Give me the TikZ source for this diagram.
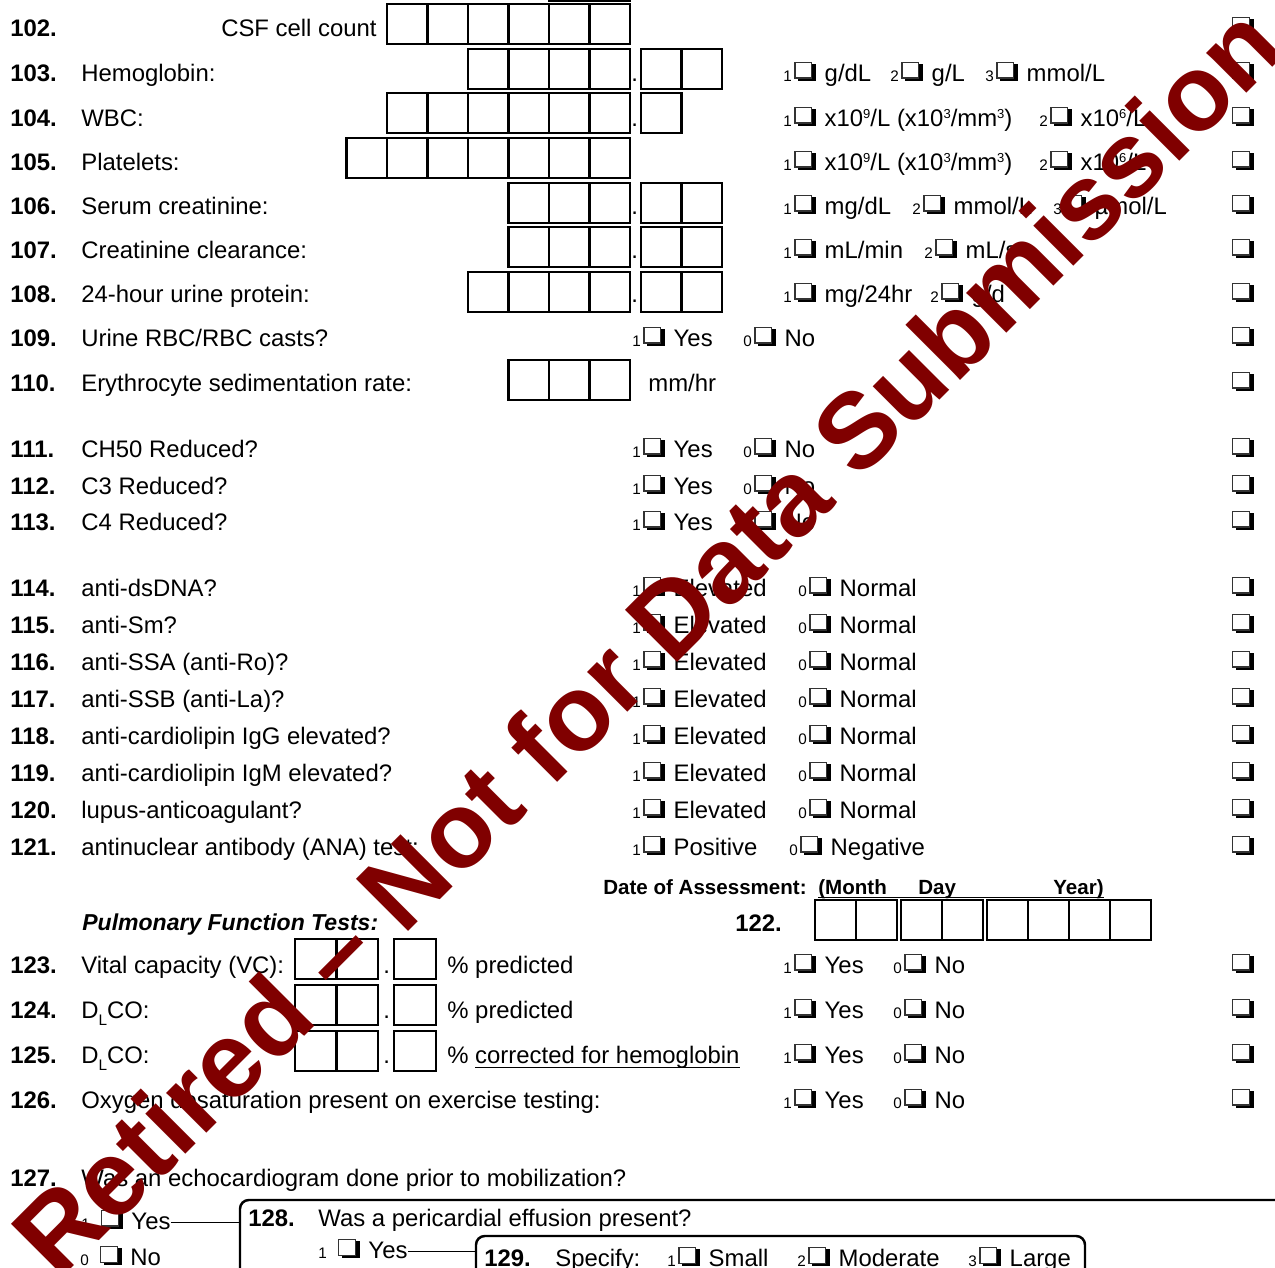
\documentclass[tikz,border=0pt]{standalone}
\usepackage{fontspec}
\setmainfont{Liberation Sans}
\usepackage{tikz}
\usetikzlibrary{positioning}
\definecolor{wmred}{RGB}{128,0,0}
\newcommand{\fmain}{\fontsize{13.6pt}{16pt}\selectfont}
\newcommand{\fsmall}{\fontsize{8.7pt}{10pt}\selectfont}
\newcommand{\fsup}{\fontsize{7.4pt}{9pt}\selectfont}
\newcommand{\fdate}{\fontsize{11.7pt}{14pt}\selectfont}
% shadowed check box
\newcommand{\chk}{{\setlength\fboxsep{0pt}\setlength\fboxrule{0.6pt}%
  \makebox[12.2pt][l]{\rlap{\hspace{2pt}\rule{10.2pt}{9.4pt}}%
  \raisebox{2pt}{\fcolorbox{black!80}{white}{\rule{0pt}{8.2pt}\hspace{9pt}}}}}}
\newcommand{\opt}[2]{{\fsmall #1}\hspace{1.5pt}\chk\hspace{5pt}#2}
\newcommand{\optsp}[2]{{\fsmall #1}\hspace{6.5pt}\chk\hspace{5pt}#2}
\newcommand{\sups}[1]{\raisebox{4.4pt}{\fsup #1}}
\newcommand{\subL}{\raisebox{-4.5pt}{\fsmall L}}
\newcommand{\undl}[1]{\setbox0\hbox{#1}\rlap{\rule[-2.8pt]{\wd0}{0.7pt}}\box0}
% row of entry cells: [width]{x}{top}{count}
\newcommand{\cells}[4][40.5]{\foreach \ii in {1,...,#4}{\draw[cellbox] ({#2+(\ii-1)*#1},#3) rectangle ++(#1,40);}}

\begin{document}
\begin{tikzpicture}[x=0.02cm, y=-0.02cm,
    lbl/.style={anchor=base west, inner sep=0pt, font=\fmain},
    num/.style={lbl, font=\fmain\bfseries},
    cellbox/.style={draw, line width=1.2pt},
    frame/.style={draw, line width=1.4pt, rounded corners=5pt},
    link/.style={draw, line width=0.7pt},
    wm/.style={text=wmred, font=\fontsize{61pt}{70pt}\selectfont\bfseries, inner sep=0pt}
]
\useasboundingbox (0,0) rectangle (1275,1268);

% Question numbers and labels
\node[num] (n102) at (10,36) {102.};
\node[lbl, anchor=base east] (q102) at (377,36) {CSF cell count};
\foreach \n/\yb/\q in {103/81/Hemoglobin:, 104/126/WBC:, 105/170/Platelets:,
    106/214/Serum creatinine:, 107/258/Creatinine clearance:, 108/302/24-hour urine protein:,
    109/346/{Urine RBC/RBC casts?}, 110/391/Erythrocyte sedimentation rate:,
    111/457/CH50 Reduced?, 112/494/C3 Reduced?, 113/530/C4 Reduced?,
    114/596/anti-dsDNA?, 115/633/anti-Sm?, 116/670/anti-SSA (anti-Ro)?,
    117/707/anti-SSB (anti-La)?, 118/744/anti-cardiolipin IgG elevated?,
    119/781/anti-cardiolipin IgM elevated?, 120/818/lupus-anticoagulant?,
    121/855/antinuclear antibody (ANA) test:, 123/973/Vital capacity (VC):,
    124/1018/{D\subL CO:}, 125/1063/{D\subL CO:},
    126/1108/Oxygen desaturation present on exercise testing:,
    127/1186/Was an echocardiogram done prior to mobilization?}{
  \node[num] (n\n) at (10,\yb) {\n.};
  \node[lbl] (q\n) at (81,\yb) {\q};
}

% Entry cells
\cells{549}{-39}{2}
\cells{387}{4}{6}
\cells{468}{49}{4}   \cells{641}{49}{2}
\cells{387}{93}{6}   \cells{641}{93}{1}
\cells{346.5}{138}{7}
\cells{508.5}{183}{3} \cells{641}{183}{2}
\cells{508.5}{227}{3} \cells{641}{227}{2}
\cells{468}{272}{4}  \cells{641}{272}{2}
\cells{508.5}{360}{3}
\foreach \yb/\n in {81/103,126/104,214/106,258/107,302/108}
  \node[lbl] (d\n) at (631,\yb) {.};

% Units
\node[lbl] (u103a) at (783,81) {\opt{1}{g/dL}};
\node[lbl] (u103b) at (890,81) {\opt{2}{g/L}};
\node[lbl] (u103c) at (985,81) {\opt{3}{mmol/L}};
\node[lbl] (u104a) at (783,126) {\opt{1}{x10\sups{9}/L (x10\sups{3}/mm\sups{3})}};
\node[lbl] (u104b) at (1039,126) {\opt{2}{x10\sups{6}/L}};
\node[lbl] (u105a) at (783,170) {\opt{1}{x10\sups{9}/L (x10\sups{3}/mm\sups{3})}};
\node[lbl] (u105b) at (1039,170) {\opt{2}{x10\sups{6}/L}};
\node[lbl] (u106a) at (783,214) {\opt{1}{mg/dL}};
\node[lbl] (u106b) at (912,214) {\opt{2}{mmol/L}};
\node[lbl] (u106c) at (1053,214) {\opt{3}{µmol/L}};
\node[lbl] (u107a) at (783,258) {\opt{1}{mL/min}};
\node[lbl] (u107b) at (924,258) {\opt{2}{mL/s}};
\node[lbl] (u108a) at (783,302) {\opt{1}{mg/24hr}};
\node[lbl] (u108b) at (930,302) {\opt{2}{g/d}};
\node[lbl] (u110) at (648,391) {mm/hr};

% Yes / No answers
\foreach \yb in {346,457,494,530}{
  \node[lbl] (ya\yb) at (632,\yb) {\opt{1}{Yes}};
  \node[lbl] (na\yb) at (743,\yb) {\opt{0}{No}};
}
\foreach \yb in {596,633,670,707,744,781,818}{
  \node[lbl] (el\yb) at (632,\yb) {\opt{1}{Elevated}};
  \node[lbl] (no\yb) at (798,\yb) {\opt{0}{Normal}};
}
\node[lbl] (pos) at (632,855) {\opt{1}{Positive}};
\node[lbl] (neg) at (789,855) {\opt{0}{Negative}};

% Date of assessment
\node[lbl, font=\fdate\bfseries] (doa) at (603,894) {Date of Assessment:};
\node[lbl, font=\fdate\bfseries] (mon) at (818,894) {(Month};
\node[lbl, font=\fdate\bfseries] (day) at (918,894) {Day};
\node[lbl, font=\fdate\bfseries] (yr) at (1053,894) {Year)};
\draw[line width=0.9pt] ([yshift=-2pt]mon.base west) -- ([yshift=-2pt]yr.base east);
\node[lbl, font=\fontsize{13.1pt}{15pt}\selectfont\bfseries\itshape] (pft) at (82,930) {Pulmonary Function Tests:};
\node[num] (n122) at (735,931) {122.};
\cells[41]{815}{900}{2}
\cells[41]{901}{900}{2}
\cells[41]{987}{900}{4}

% Pulmonary function tests
\foreach \yt/\yb in {939/973,985/1018,1031/1063}{
  \cells[41.5]{295}{\yt}{2}
  \cells[42]{394}{\yt}{1}
  \node[lbl] (dp\yb) at (383,\yb) {.};
}
\node[lbl] (pc123) at (447,973) {\% predicted};
\node[lbl] (pc124) at (447,1018) {\% predicted};
\node[lbl] (pc125) at (447,1063) {\% \undl{corrected for hemoglobin}};
\foreach \yb in {973,1018,1063,1108}{
  \node[lbl] (yp\yb) at (783,\yb) {\opt{1}{Yes}};
  \node[lbl] (np\yb) at (893,\yb) {\opt{0}{No}};
}

% Right column check boxes
\foreach \yb in {36,81,126,170,214,258,302,346,391,457,494,530,596,633,670,707,744,781,818,855,973,1018,1063,1108}
  \node[lbl] (rc\yb) at (1232,\yb) {\chk};

% Echocardiogram block
\node[lbl] (y127) at (81,1229) {\optsp{1}{Yes}};
\node[lbl] (n127) at (80,1265) {\optsp{0}{No}};
\draw[frame] (1320,1200) -- (240,1200) -- (240,1320);
\coordinate (e128) at (240,1222);
\coordinate (y127r) at ([yshift=3.8pt]y127.base east);
\draw[link] (y127r) -- (y127r -| e128);
\node[num] (n128) at (248,1226) {128.};
\node[lbl] (q128) at (318,1226) {Was a pericardial effusion present?};
\node[lbl] (y128) at (318,1258) {\optsp{1}{Yes}};
\draw[frame] (476,1320) -- (476,1236) -- (1085,1236) -- (1085,1320);
\coordinate (e129) at (476,1252);
\coordinate (y128r) at ([yshift=3.8pt]y128.base east);
\draw[link] (y128r) -- (y128r -| e129);
\node[num] (n129) at (484,1266) {129.};
\node[lbl] (q129) at (555,1266) {Specify:};
\node[lbl] (s129) at (667,1266) {\opt{1}{Small}};
\node[lbl] (m129) at (797,1266) {\opt{2}{Moderate}};
\node[lbl] (l129) at (968,1266) {\opt{3}{Large}};

% Watermark
\node[wm, rotate=45] (wmark) at (646,640) {Retired – Not for Data Submission};
\end{tikzpicture}
\end{document}
